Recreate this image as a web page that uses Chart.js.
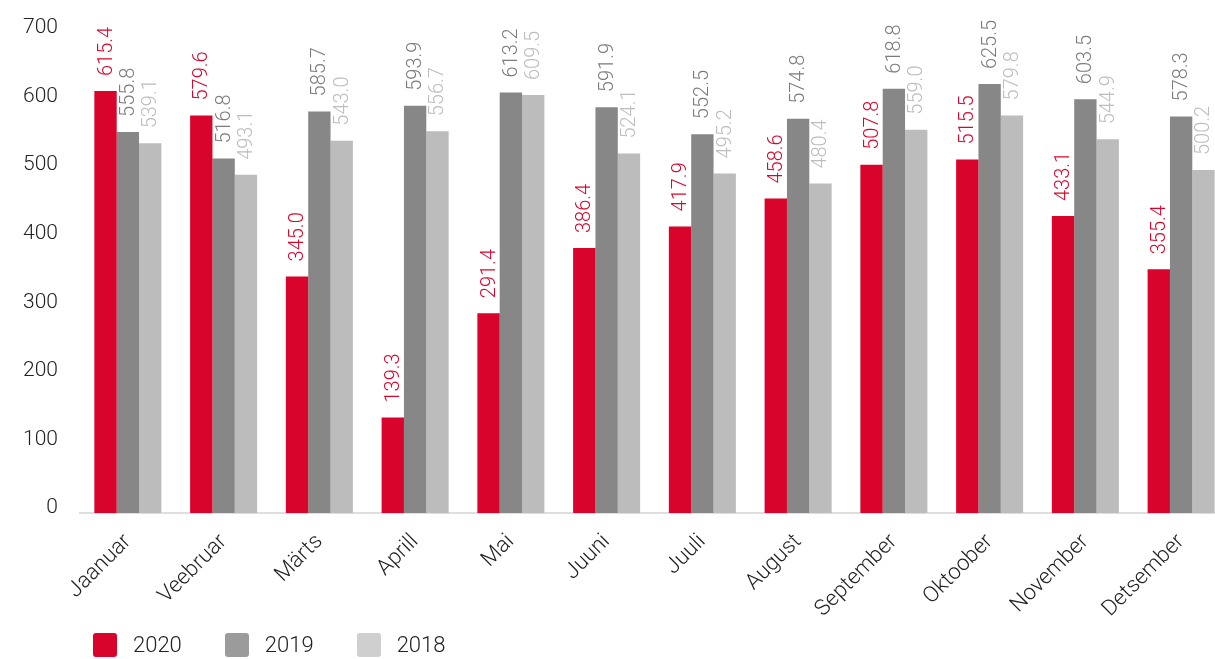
<!DOCTYPE html>
<html lang="et">
<head>
    <meta charset="UTF-8">
    <title>Kuud 2018-2020</title>
    <script src="https://cdn.jsdelivr.net/npm/chart.js"></script>
    <style>
        html, body { margin: 0; padding: 0; background: #fff; overflow: hidden; }
        body { font-family: Roboto, "Liberation Sans", sans-serif; font-weight: 300; }
        .wrap { position: relative; width: 1229px; height: 659px; }
        #legend { position: absolute; left: 93px; top: 633px; display: flex; align-items: center; gap: 43px; }
        #legend .item { display: flex; align-items: center; gap: 16px; font-size: 22px; color: #222; line-height: 24px; }
        #legend .box { width: 24px; height: 24px; border-radius: 3px; }
    </style>
</head>
<body>
    <div class="wrap">
        <canvas id="monthChart"></canvas>
        <div id="legend"></div>
    </div>

    <script>
        const months = ["Jaanuar", "Veebruar", "Märts", "Aprill", "Mai", "Juuni", "Juuli", "August", "September", "Oktoober", "November", "Detsember"];
        const years = ["2020", "2019", "2018"];
        const values2020 = [615.4, 579.6, 345.0, 139.3, 291.4, 386.4, 417.9, 458.6, 507.8, 515.5, 433.1, 355.4];
        const values2019 = [555.8, 516.8, 585.7, 593.9, 613.2, 591.9, 552.5, 574.8, 618.8, 625.5, 603.5, 578.3];
        const values2018 = [539.1, 493.1, 543.0, 556.7, 609.5, 524.1, 495.2, 480.4, 559.0, 579.8, 544.9, 500.2];

        const barColors = ["#d9042b", "#878787", "#bcbcbc"];
        const labelColors = ["#d9042b", "#7b7b7b", "#bdbdbd"];
        const legendColors = ["#d9042b", "#9b9b9b", "#cfcfcf"];

        const fontFamily = 'Roboto, "Liberation Sans", sans-serif';

        // väärtused tulpade kohale, püsti
        const valueLabels = {
            id: 'valueLabels',
            afterDatasetsDraw(chart) {
                const ctx = chart.ctx;
                chart.data.datasets.forEach((ds, i) => {
                    const meta = chart.getDatasetMeta(i);
                    meta.data.forEach((bar, j) => {
                        ctx.save();
                        ctx.translate(bar.x, bar.y - 15);
                        ctx.rotate(-Math.PI / 2);
                        ctx.font = '300 20px ' + fontFamily;
                        ctx.fillStyle = labelColors[i];
                        ctx.textAlign = 'left';
                        ctx.textBaseline = 'middle';
                        ctx.fillText(ds.data[j].toFixed(1), 0, 1);
                        ctx.restore();
                    });
                });
            }
        };

        const chart = new Chart(document.getElementById("monthChart"), {
            type: 'bar',
            data: {
                labels: months,
                datasets: [
                    { label: years[0], data: values2020, backgroundColor: barColors[0] },
                    { label: years[1], data: values2019, backgroundColor: barColors[1] },
                    { label: years[2], data: values2018, backgroundColor: barColors[2] }
                ]
            },
            options: {
                responsive: true,
                maintainAspectRatio: false,
                animation: false,
                layout: { padding: { top: 33, right: 0, bottom: 0, left: 0 } },
                datasets: { bar: { categoryPercentage: 0.7, barPercentage: 1.0 } },
                plugins: {
                    legend: { display: false },
                    tooltip: { enabled: false }
                },
                scales: {
                    x: {
                        grid: { display: false },
                        border: { display: true, color: '#dedede', width: 2 },
                        ticks: {
                            color: '#222',
                            font: { family: fontFamily, size: 22, weight: 300 },
                            maxRotation: 45,
                            minRotation: 45,
                            padding: 8
                        },
                        afterFit(scale) { scale.height = 146; }
                    },
                    y: {
                        min: 0,
                        max: 700,
                        grid: { display: false },
                        border: { display: false },
                        ticks: {
                            stepSize: 100,
                            color: '#222',
                            font: { family: fontFamily, size: 21, weight: 300 },
                            padding: 14,
                            labelOffset: -5
                        },
                        afterFit(scale) { scale.width = 80; }
                    }
                }
            },
            plugins: [valueLabels]
        });

        // legend all
        const legendEl = document.getElementById('legend');
        chart.data.datasets.forEach((ds, i) => {
            const item = document.createElement('div');
            item.className = 'item';
            item.innerHTML = '<span class="box" style="background:' + legendColors[i] + '"></span><span>' + ds.label + '</span>';
            legendEl.appendChild(item);
        });
    </script>
</body>
</html>
